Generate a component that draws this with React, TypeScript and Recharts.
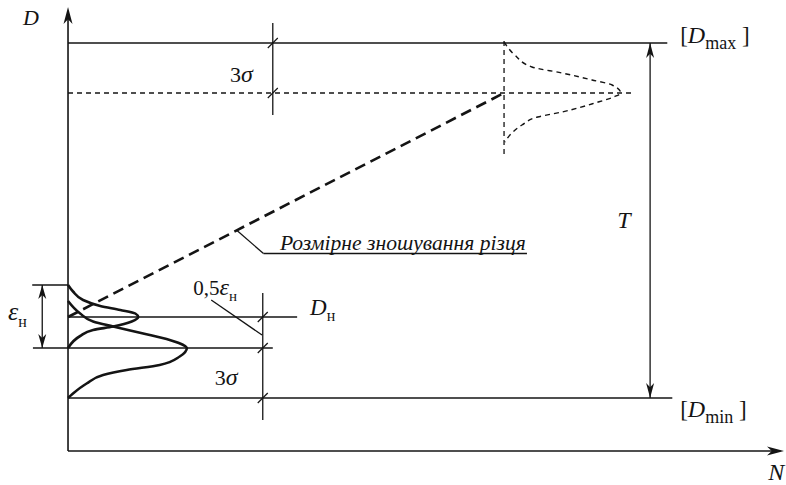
import React from 'react';
import { ComposedChart, Line, XAxis, YAxis, ReferenceLine, ReferenceDot } from 'recharts';

type Pt = { n: number; d: number };
type Part = { t: string; i?: boolean; sub?: boolean; size?: number };
type Label = { n: number; d: number; size: number; anchor?: 'start' | 'middle' | 'end'; parts: Part[] };
type Arrow = { n: number; d: number; dir: 'up' | 'down' | 'right'; len: number; half: number };

// diagram units: N along the run, D is the machined size
const D_MIN = 0;
const D_MAX = 71;
const D_H = 16.2; // setting size
const EPS_TOP = 22.6;
const EPS_BOTTOM = 10;
const MEAN_END = 61; // D_MAX - 3σ
const N_RESET = 60.9;
const AXIS_D = -10.6;
const AXIS_TOP = 78.2;
const AXIS_END = 100;
const DIM_TOP_N = 28.6;
const DIM_LOW_N = 27.2;
const T_N = 81.3;

// scatter of the setting around D_H
const settingCurve: Pt[] = [
  { n: 0, d: 22.6 }, { n: 0.7, d: 21.3 }, { n: 2.1, d: 19.6 }, { n: 4.5, d: 18.4 },
  { n: 7.3, d: 17.6 }, { n: 9.4, d: 16.9 }, { n: 9.8, d: 16.2 }, { n: 8.9, d: 15.3 },
  { n: 6.3, d: 14.3 }, { n: 3.5, d: 13.6 }, { n: 1.7, d: 12.4 }, { n: 0, d: 10 },
];

// scatter of the machined sizes at the start
const startCurve: Pt[] = [
  { n: 0, d: 19.4 }, { n: 1.7, d: 16.9 }, { n: 3.5, d: 15.3 }, { n: 6.3, d: 14.3 },
  { n: 10.5, d: 12.9 }, { n: 14.2, d: 11.6 }, { n: 16.1, d: 10.6 }, { n: 16.6, d: 10 },
  { n: 15.6, d: 8.3 }, { n: 12.8, d: 6.6 }, { n: 8.2, d: 5.6 }, { n: 4.9, d: 4.6 },
  { n: 2.6, d: 2.9 }, { n: 0.7, d: 0.9 }, { n: 0, d: 0 },
];

// scatter at the end of the tool life
const endCurve: Pt[] = [
  { n: 60.9, d: 71.2 }, { n: 62.4, d: 68.6 }, { n: 64.8, d: 66.2 }, { n: 69, d: 65 },
  { n: 73.2, d: 63.6 }, { n: 76, d: 62.6 }, { n: 77.2, d: 61 }, { n: 76.2, d: 60.2 },
  { n: 73.6, d: 59 }, { n: 69, d: 57.2 }, { n: 65.6, d: 56.2 }, { n: 63.4, d: 54.6 },
  { n: 62, d: 53 }, { n: 61, d: 51.2 },
];

const wearLine: Pt[] = [{ n: 0, d: D_H }, { n: N_RESET, d: MEAN_END }];

const solidLines: [Pt, Pt][] = [
  [{ n: D_MIN, d: D_MIN }, { n: 84.4, d: D_MIN }],
  [{ n: 0, d: D_MAX }, { n: 83.7, d: D_MAX }],
  [{ n: T_N, d: D_MIN }, { n: T_N, d: D_MAX }],
  [{ n: DIM_TOP_N, d: 75 }, { n: DIM_TOP_N, d: 56.6 }],
  [{ n: DIM_LOW_N, d: 21 }, { n: DIM_LOW_N, d: -4.4 }],
  [{ n: 0, d: D_H }, { n: 32, d: D_H }],
  [{ n: -4.9, d: EPS_BOTTOM }, { n: 28.6, d: EPS_BOTTOM }],
  [{ n: -5, d: EPS_TOP }, { n: 0, d: EPS_TOP }],
  [{ n: -3.6, d: EPS_TOP }, { n: -3.6, d: EPS_BOTTOM }],
  [{ n: 20, d: 19.6 }, { n: 27.1, d: 12.6 }],
  [{ n: 23.6, d: 33.5 }, { n: 27.3, d: 28.9 }],
  [{ n: 27.3, d: 28.9 }, { n: 64.1, d: 28.9 }],
];

const axisLines: [Pt, Pt][] = [
  [{ n: 0, d: AXIS_D }, { n: 0, d: AXIS_TOP - 1 }],
  [{ n: 0, d: AXIS_D }, { n: AXIS_END - 0.5, d: AXIS_D }],
];

const dashedLines: [Pt, Pt][] = [
  [{ n: 0, d: MEAN_END }, { n: 78.9, d: MEAN_END }],
  [{ n: N_RESET, d: 71.4 }, { n: N_RESET, d: 48 }],
];

const dimTicks: Pt[] = [
  { n: DIM_TOP_N, d: D_MAX }, { n: DIM_TOP_N, d: MEAN_END },
  { n: DIM_LOW_N, d: D_H }, { n: DIM_LOW_N, d: EPS_BOTTOM }, { n: DIM_LOW_N, d: D_MIN },
];

const arrows: Arrow[] = [
  { n: 0, d: AXIS_TOP, dir: 'up', len: 17, half: 4.5 },
  { n: AXIS_END, d: AXIS_D, dir: 'right', len: 17, half: 4.5 },
  { n: T_N, d: D_MAX, dir: 'up', len: 15, half: 4 },
  { n: T_N, d: D_MIN, dir: 'down', len: 15, half: 4 },
  { n: -3.6, d: EPS_TOP, dir: 'up', len: 14, half: 4 },
  { n: -3.6, d: EPS_BOTTOM, dir: 'down', len: 14, half: 4 },
];

const labels: Label[] = [
  { n: -6.3, d: 74.6, size: 22, parts: [{ t: 'D', i: true }] },
  { n: 25.8, d: 63.2, size: 22, anchor: 'end', parts: [{ t: '3' }, { t: 'σ', i: true, size: 24 }] },
  { n: 77.65, d: 34, size: 24, anchor: 'middle', parts: [{ t: 'T', i: true }] },
  { n: 85.5, d: 71, size: 23, parts: [{ t: '[' }, { t: 'D', i: true, size: 24 }, { t: 'max', sub: true, size: 18 }, { t: '\u00a0]' }] },
  { n: 85.5, d: -3.8, size: 23, parts: [{ t: '[' }, { t: 'D', i: true, size: 24 }, { t: 'min', sub: true, size: 18 }, { t: '\u00a0]' }] },
  { n: 33.8, d: 16.6, size: 23, parts: [{ t: 'D', i: true }, { t: 'н', sub: true, size: 16 }] },
  { n: -8.4, d: 15.6, size: 26, parts: [{ t: 'ε', i: true }, { t: 'н', sub: true, size: 16 }] },
  { n: 17.5, d: 20.6, size: 21, parts: [{ t: '0,5' }, { t: 'ε', i: true, size: 24 }, { t: 'н', sub: true, size: 15 }] },
  { n: 20.5, d: 2.6, size: 22, parts: [{ t: '3' }, { t: 'σ', i: true, size: 24 }] },
  { n: 29.6, d: 29.6, size: 21.6, parts: [{ t: 'Розмірне зношування різця', i: true }] },
  { n: 97.8, d: -16.4, size: 24, parts: [{ t: 'N', i: true }] },
];

const INK = '#141414';
const FONT = "'Liberation Serif', 'Times New Roman', serif";

const toSeg = (s: [Pt, Pt]) => s.map((p) => ({ x: p.n, y: p.d }));

const arrowShape = (a: Arrow) => (props: any) => {
  const { cx, cy } = props;
  const { len, half } = a;
  let pts: number[][];
  if (a.dir === 'up') {
    pts = [[cx, cy], [cx - half, cy + len], [cx, cy + len * 0.72], [cx + half, cy + len]];
  } else if (a.dir === 'down') {
    pts = [[cx, cy], [cx - half, cy - len], [cx, cy - len * 0.72], [cx + half, cy - len]];
  } else {
    pts = [[cx, cy], [cx - len, cy - half], [cx - len * 0.72, cy], [cx - len, cy + half]];
  }
  return <polygon points={pts.map((p) => p.join(',')).join(' ')} fill={INK} />;
};

const tickShape = (props: any) => {
  const { cx, cy } = props;
  return <line x1={cx - 5} y1={cy + 5} x2={cx + 5} y2={cy - 5} stroke={INK} strokeWidth={1.2} />;
};

const labelShape = (l: Label) => (props: any) => {
  const { cx, cy } = props;
  let shift = 0;
  return (
    <text x={cx} y={cy} fontFamily={FONT} fontSize={l.size} fill={INK} textAnchor={l.anchor || 'start'}>
      {l.parts.map((p, k) => {
        const target = p.sub ? Math.round(l.size * 0.28) : 0;
        const dy = target - shift;
        shift = target;
        return (
          <tspan key={k} dy={dy} fontFamily={FONT} fontStyle={p.i ? 'italic' : 'normal'} fontSize={p.size || l.size}>
            {p.t}
          </tspan>
        );
      })}
    </text>
  );
};

const curveProps = { dot: false, activeDot: false, isAnimationActive: false, stroke: INK } as const;

export default function App() {
  return (
    <div style={{ position: 'absolute', left: 0, top: 0, width: 786, height: 485, background: '#fff' }}>
      <ComposedChart width={786} height={485} margin={{ top: 0, right: 0, bottom: 0, left: 0 }}>
        <XAxis type="number" dataKey="n" domain={[-9.5, 100.28]} hide allowDataOverflow />
        <YAxis type="number" dataKey="d" domain={[-17.4, 79.6]} hide allowDataOverflow />

        {axisLines.map((s, k) => (
          <ReferenceLine key={`ax${k}`} segment={toSeg(s)} stroke={INK} strokeWidth={1.6} ifOverflow="visible" />
        ))}
        {solidLines.map((s, k) => (
          <ReferenceLine key={`sl${k}`} segment={toSeg(s)} stroke={INK} strokeWidth={1.3} ifOverflow="visible" />
        ))}
        {dashedLines.map((s, k) => (
          <ReferenceLine key={`dl${k}`} segment={toSeg(s)} stroke={INK} strokeWidth={1.3} strokeDasharray="5 4" ifOverflow="visible" />
        ))}

        <Line {...curveProps} data={endCurve} dataKey="d" type="monotoneY" strokeWidth={1.4} strokeDasharray="5 4" />
        <Line {...curveProps} data={wearLine} dataKey="d" type="linear" strokeWidth={2.6} strokeDasharray="11 6" />
        <Line {...curveProps} data={settingCurve} dataKey="d" type="monotoneY" strokeWidth={2.6} />
        <Line {...curveProps} data={startCurve} dataKey="d" type="monotoneY" strokeWidth={2.6} />

        {dimTicks.map((p, k) => (
          <ReferenceDot key={`tk${k}`} x={p.n} y={p.d} r={1} ifOverflow="visible" shape={tickShape} />
        ))}
        {arrows.map((a, k) => (
          <ReferenceDot key={`ar${k}`} x={a.n} y={a.d} r={1} ifOverflow="visible" shape={arrowShape(a)} />
        ))}
        {labels.map((l, k) => (
          <ReferenceDot key={`lb${k}`} x={l.n} y={l.d} r={1} ifOverflow="visible" shape={labelShape(l)} />
        ))}
      </ComposedChart>
    </div>
  );
}
